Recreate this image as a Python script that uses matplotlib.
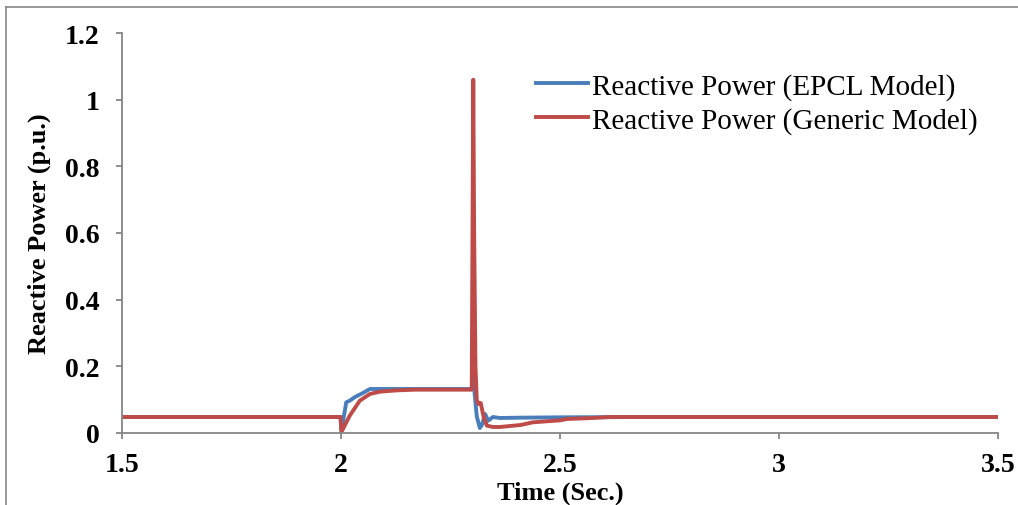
import matplotlib
matplotlib.use("Agg")
import matplotlib.pyplot as plt
from matplotlib.lines import Line2D

# Reactive power response, EPCL model
t_epcl = [1.5, 1.999, 2.001, 2.008, 2.012, 2.020, 2.032, 2.050, 2.066,
          2.2995, 2.302, 2.305, 2.310, 2.317, 2.322, 2.329, 2.336, 2.347,
          2.363, 2.410, 2.500, 2.700, 3.5]
q_epcl = [0.048, 0.048, 0.010, 0.060, 0.092, 0.097, 0.108, 0.120, 0.132,
          0.132, 0.250, 0.120, 0.050, 0.015, 0.025, 0.057, 0.037, 0.048,
          0.045, 0.046, 0.047, 0.048, 0.048]

# Reactive power response, generic model
t_gen = [1.5, 1.999, 2.001, 2.020, 2.043, 2.066, 2.089, 2.128, 2.170,
         2.2985, 2.302, 2.304, 2.307, 2.310, 2.3135, 2.319, 2.325, 2.333,
         2.347, 2.363, 2.410, 2.438, 2.500, 2.516, 2.575, 2.614, 2.650, 3.5]
q_gen = [0.048, 0.048, 0.003, 0.052, 0.097, 0.117, 0.124, 0.128, 0.130,
         0.130, 1.060, 0.600, 0.200, 0.100, 0.087, 0.090, 0.052, 0.022,
         0.018, 0.018, 0.024, 0.032, 0.038, 0.042, 0.045, 0.048, 0.048, 0.048]

x_ticks = [1.5, 2, 2.5, 3, 3.5]
x_tick_labels = ["1.5", "2", "2.5", "3", "3.5"]
y_ticks = [0, 0.2, 0.4, 0.6, 0.8, 1.0, 1.2]
y_tick_labels = ["0", "0.2", "0.4", "0.6", "0.8", "1", "1.2"]

series_labels = ["Reactive Power (EPCL Model)", "Reactive Power (Generic Model)"]

plt.rcParams["font.family"] = ["Liberation Serif", "DejaVu Serif"]

fig = plt.figure(figsize=(10.18, 5.06), dpi=100)
ax = fig.add_axes([0.1198, 0.1423, 0.9804 - 0.1198, 0.9328 - 0.1423])

blue = "#4A7EBB"
red = "#BE4B48"
ax.plot(t_epcl, q_epcl, color=blue, lw=2.8, label=series_labels[0],
        solid_joinstyle="round")
ax.plot(t_gen, q_gen, color=red, lw=2.8, label=series_labels[1],
        solid_joinstyle="round")

ax.set_xlim(1.5, 3.5)
ax.set_ylim(0, 1.2)
ax.set_xticks(x_ticks)
ax.set_xticklabels(x_tick_labels)
ax.set_yticks(y_ticks)
ax.set_yticklabels(y_tick_labels)

axis_gray = "#868686"
for side in ("top", "right"):
    ax.spines[side].set_visible(False)
for side in ("left", "bottom"):
    ax.spines[side].set_color(axis_gray)
    ax.spines[side].set_linewidth(1.3)

ax.tick_params(axis="both", direction="out", length=4, width=1.3,
               color=axis_gray, labelsize=20)
ax.tick_params(axis="y", pad=12)
ax.tick_params(axis="x", pad=10)
for lab in ax.get_xticklabels() + ax.get_yticklabels():
    lab.set_fontweight("bold")

ax.set_xlabel("Time (Sec.)", fontsize=19, fontweight="bold", labelpad=2)
ax.set_ylabel("Reactive Power (p.u.)", fontsize=19, fontweight="bold", labelpad=10)

leg = ax.legend(loc="upper left", bbox_to_anchor=(0.459, 0.93), frameon=False,
                fontsize=21, handlelength=1.8, handletextpad=0.14,
                labelspacing=0.25, borderaxespad=0)

# Chart-area frame edges
fig.add_artist(Line2D([6 / 1018, 6 / 1018], [0, 1 - 8 / 506],
                      transform=fig.transFigure, color=axis_gray, lw=1.2))
fig.add_artist(Line2D([6 / 1018, 1], [1 - 8 / 506, 1 - 8 / 506],
                      transform=fig.transFigure, color=axis_gray, lw=1.2))

fig.savefig("out.png", dpi=100)
